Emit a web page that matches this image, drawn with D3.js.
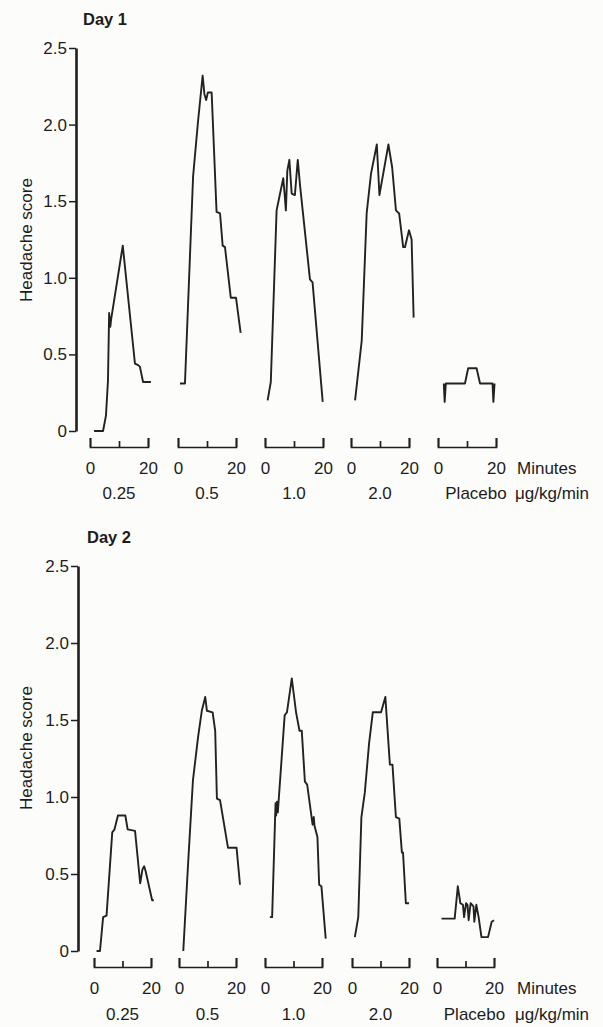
<!DOCTYPE html>
<html>
<head>
<meta charset="utf-8">
<script src="https://cdn.jsdelivr.net/npm/d3@7"></script>
<style>
  html, body { margin: 0; padding: 0; background: #fcfcfa; }
  svg text { font-family: "Liberation Sans", Arial, sans-serif; fill: #1c1c1c; }
</style>
</head>
<body>
<div id="chart"></div>
<script>
// dose groups and tick values
const doses = ["0.25", "0.5", "1.0", "2.0", "Placebo"];
const scoreTicks = [0, 0.5, 1.0, 1.5, 2.0, 2.5];
const minuteTicks = [0, 10, 20];

// [minute, headache score]
const day1_025 = [[1.4,0],[4.5,0],[5.5,0.1],[6.2,0.33],[6.6,0.77],[7.0,0.68],[7.3,0.73],[11.3,1.21],[15.5,0.44],[16.6,0.43],[17.2,0.42],[18.3,0.32],[21.0,0.32]];
const day1_05 = [[0.7,0.31],[2.4,0.31],[5.2,1.66],[6.9,2.02],[8.5,2.32],[9.1,2.2],[9.7,2.16],[10.3,2.21],[11.6,2.21],[13.3,1.43],[14.5,1.42],[15.4,1.21],[16.2,1.2],[18.2,0.87],[20.0,0.87],[21.6,0.64]];
const day1_10 = [[0.9,0.2],[2.0,0.32],[4.0,1.44],[5.2,1.55],[6.3,1.65],[6.7,1.56],[7.2,1.44],[7.7,1.7],[8.4,1.77],[9.2,1.55],[10.3,1.54],[11.3,1.77],[12.1,1.6],[15.5,0.99],[16.4,0.97],[19.9,0.19]];
const day1_20 = [[1.4,0.2],[3.7,0.59],[5.4,1.42],[6.9,1.68],[8.9,1.87],[9.8,1.54],[12.9,1.87],[14.2,1.72],[15.5,1.44],[16.6,1.42],[18.0,1.2],[18.6,1.2],[20.0,1.31],[20.9,1.25],[21.6,0.74]];
const day1_pl = [[2.0,0.31],[2.3,0.19],[2.7,0.31],[9.3,0.31],[10.4,0.41],[13.3,0.41],[14.5,0.31],[18.8,0.31],[19.1,0.19],[19.5,0.31]];

const day2_025 = [[0.9,0],[2.1,0],[3.2,0.22],[4.4,0.23],[6.4,0.77],[7.2,0.79],[8.4,0.88],[11.0,0.88],[11.8,0.79],[14.4,0.78],[16.2,0.44],[17.0,0.53],[17.6,0.55],[18.1,0.52],[20.4,0.33],[21.0,0.33]];
const day2_05 = [[1.5,0],[3.2,0.57],[4.9,1.11],[6.7,1.39],[8.0,1.56],[9.2,1.65],[9.8,1.56],[11.8,1.55],[12.7,1.43],[13.3,0.99],[14.4,0.98],[17.2,0.67],[20.2,0.67],[21.4,0.43]];
const day2_10 = [[1.7,0.22],[2.5,0.22],[3.7,0.96],[3.9,0.88],[4.2,0.97],[4.5,0.9],[6.9,1.53],[7.7,1.55],[9.4,1.77],[10.9,1.55],[12.1,1.43],[12.9,1.43],[14.0,1.1],[14.8,1.08],[16.7,0.82],[17.1,0.87],[17.4,0.81],[18.4,0.74],[19.0,0.43],[19.8,0.42],[21.3,0.08]];
const day2_20 = [[1.0,0.09],[2.2,0.22],[3.3,0.87],[4.5,1.03],[6.0,1.35],[7.3,1.55],[10.2,1.55],[11.7,1.65],[13.3,1.21],[14.2,1.21],[15.4,0.87],[16.6,0.86],[17.5,0.64],[17.9,0.64],[18.9,0.31],[20.0,0.31]];
const day2_pl = [[1.6,0.21],[6.2,0.21],[7.3,0.42],[8.2,0.31],[9.1,0.3],[9.5,0.22],[10.2,0.31],[10.7,0.3],[11.1,0.2],[11.8,0.31],[12.8,0.29],[13.1,0.19],[13.8,0.3],[14.6,0.22],[15.6,0.09],[17.9,0.09],[19.2,0.19],[20.0,0.2]];

const width = 603, height = 1027;
const svg = d3.select("#chart").append("svg")
    .attr("width", width).attr("height", height);

// layout of the two stacked panels
const panels = [
    { title: "Day 1", series: [day1_025, day1_05, day1_10, day1_20, day1_pl],
      titleX: 83, titleY: 25, axisX: 76, yTop: 48, y0: 431, labelY: 240,
      bx: [90, 178, 265, 351, 438], bw: 58, bracketY: 447, minY: 462, doseY: 499 },
    { title: "Day 2", series: [day2_025, day2_05, day2_10, day2_20, day2_pl],
      titleX: 87, titleY: 543, axisX: 78, yTop: 566, y0: 951, labelY: 748,
      bx: [94, 179, 265, 352, 437], bw: 57, bracketY: 967, minY: 982, doseY: 1020 }
];

const ink = "#1f1f1f";
const fs = 17;

panels.forEach(p => {
    const g = svg.append("g");
    const y = d3.scaleLinear().domain([0, 2.5]).range([p.y0, p.yTop]);

    g.append("text").attr("x", p.titleX).attr("y", p.titleY)
        .attr("font-size", 16.5).attr("font-weight", "bold").text(p.title);

    // y axis
    const yAxis = g.append("g").attr("transform", `translate(${p.axisX},0)`)
        .call(d3.axisLeft(y).tickValues(scoreTicks).tickSize(7).tickSizeOuter(0).tickPadding(2)
            .tickFormat(d => d === 0 ? "0" : d3.format(".1f")(d)));
    yAxis.select(".domain").attr("stroke", ink).attr("stroke-width", 2.6);
    yAxis.selectAll(".tick line").attr("stroke", ink).attr("stroke-width", 1.5);
    yAxis.selectAll(".tick text").attr("font-size", fs).attr("fill", "#1c1c1c")
        .attr("font-family", "Liberation Sans, Arial, sans-serif");

    g.append("text")
        .attr("transform", `translate(32,${p.labelY}) rotate(-90)`)
        .attr("text-anchor", "middle").attr("font-size", fs)
        .text("Headache score");

    const line = d3.line();

    p.series.forEach((data, i) => {
        const x = d3.scaleLinear().domain([0, 20]).range([p.bx[i], p.bx[i] + p.bw]);

        // bracket-shaped minutes axis under each trace
        const xAxis = g.append("g").attr("transform", `translate(0,${p.bracketY})`)
            .call(d3.axisBottom(x).tickValues(minuteTicks).tickSize(-8).tickSizeOuter(-9)
                .tickPadding(p.minY - p.bracketY)
                .tickFormat(d => d === 10 ? "" : d));
        xAxis.select(".domain").attr("stroke", ink).attr("stroke-width", 1.7);
        xAxis.selectAll(".tick line").attr("stroke", ink).attr("stroke-width", 1.7)
            .attr("y2", d => d === 10 ? -6 : -9);
        xAxis.selectAll(".tick text").attr("font-size", fs).attr("fill", "#1c1c1c")
            .attr("font-family", "Liberation Sans, Arial, sans-serif");

        g.append("path")
            .datum(data)
            .attr("fill", "none")
            .attr("stroke", "#222")
            .attr("stroke-width", 1.9)
            .attr("stroke-linejoin", "round")
            .attr("d", line.x(d => x(d[0])).y(d => y(d[1])));

        const isPlacebo = doses[i] === "Placebo";
        g.append("text")
            .attr("x", (p.bx[i] + p.bw / 2) + (isPlacebo ? 9 : 0))
            .attr("y", p.doseY)
            .attr("text-anchor", "middle").attr("font-size", fs)
            .text(doses[i]);
    });

    g.append("text").attr("x", 517).attr("y", p.minY + 12).attr("font-size", fs).text("Minutes");
    g.append("text").attr("x", 515).attr("y", p.doseY).attr("font-size", fs).text("μg/kg/min");
});
</script>
</body>
</html>
